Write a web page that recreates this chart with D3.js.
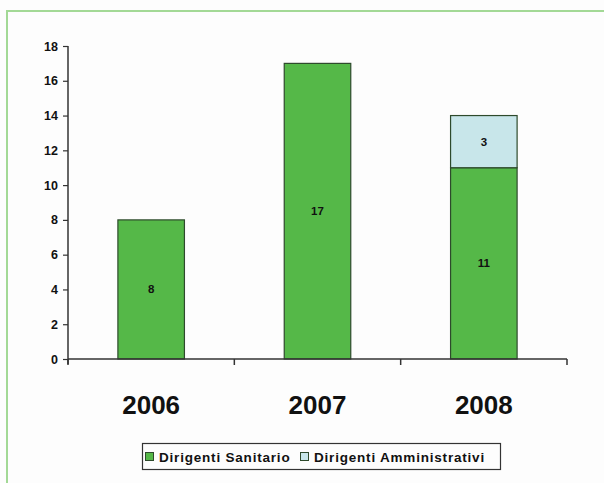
<!DOCTYPE html>
<html>
<head>
<meta charset="utf-8">
<script src="https://cdn.jsdelivr.net/npm/d3@7"></script>
<style>
  html, body { margin: 0; padding: 0; background: #fdfdfd; }
  svg { display: block; }
  text { font-family: Arial, "Liberation Sans", sans-serif; font-weight: bold; fill: #111; }
</style>
</head>
<body>
<script>
// Staff counts per year, split by role
const years = ["2006", "2007", "2008"];
const sanitario = [8, 17, 11];
const amministrativi = [0, 0, 3];
const seriesNames = ["Dirigenti Sanitario", "Dirigenti Amministrativi"];
const seriesColors = ["#55b848", "#c8e6ea"];
const yTicks = [0, 2, 4, 6, 8, 10, 12, 14, 16, 18];

const W = 604, H = 483;
const svg = d3.select("body").append("svg").attr("width", W).attr("height", H);

// light green page frame (top and left edges)
svg.append("line").attr("x1", 7).attr("x2", W).attr("y1", 11).attr("y2", 11)
  .attr("stroke", "#a3d996").attr("stroke-width", 2);
svg.append("line").attr("x1", 7).attr("x2", 7).attr("y1", 10).attr("y2", H)
  .attr("stroke", "#a3d996").attr("stroke-width", 2);

const plotL = 68, plotR = 567, plotT = 46, plotB = 359;

const x = d3.scaleBand().domain(years).range([plotL, plotR])
  .paddingInner(0.6).paddingOuter(0.3);
const y = d3.scaleLinear().domain([0, 18]).range([plotB, plotT]);

// stacked data
const rows = years.map((yr, i) => ({ year: yr, s: sanitario[i], a: amministrativi[i] }));
const stack = d3.stack().keys(["s", "a"])(rows);

stack.forEach((layer, li) => {
  const g = svg.append("g");
  layer.forEach(d => {
    const v = d[1] - d[0];
    if (v <= 0) return;
    g.append("rect")
      .attr("x", x(d.data.year))
      .attr("y", y(d[1]))
      .attr("width", x.bandwidth())
      .attr("height", y(d[0]) - y(d[1]))
      .attr("fill", seriesColors[li])
      .attr("stroke", "#2e4a2c")
      .attr("stroke-width", 1.2);
    g.append("text")
      .attr("x", x(d.data.year) + x.bandwidth() / 2)
      .attr("y", y((d[0] + d[1]) / 2))
      .attr("dy", "0.35em")
      .attr("text-anchor", "middle")
      .attr("font-size", 11.5)
      .text(v);
  });
});

// y axis
const yAxis = svg.append("g").attr("transform", `translate(${plotL},0)`)
  .call(d3.axisLeft(y).tickValues(yTicks).tickSize(5).tickPadding(5));
yAxis.select(".domain").attr("stroke", "#333").attr("stroke-width", 1.5)
  .attr("d", `M0,${plotT}V${plotB + 5}`);
yAxis.selectAll(".tick line").attr("stroke", "#333").attr("stroke-width", 1.2);
yAxis.selectAll(".tick text").attr("font-size", 12.5).attr("font-family", "Arial, 'Liberation Sans', sans-serif")
  .attr("font-weight", "bold").attr("fill", "#111");

// x axis baseline with ticks between categories
svg.append("line").attr("x1", plotL).attr("x2", plotR).attr("y1", plotB).attr("y2", plotB)
  .attr("stroke", "#333").attr("stroke-width", 1.5);
const sepX = d3.range(years.length + 1).map(i => plotL + i * (plotR - plotL) / years.length);
svg.selectAll(".xsep").data(sepX).enter().append("line")
  .attr("x1", d => d).attr("x2", d => d)
  .attr("y1", plotB).attr("y2", plotB + 6)
  .attr("stroke", "#333").attr("stroke-width", 1.5);

svg.selectAll(".yr").data(years).enter().append("text")
  .attr("x", d => x(d) + x.bandwidth() / 2)
  .attr("y", 414)
  .attr("text-anchor", "middle")
  .attr("font-size", 26)
  .text(d => d);

// legend
const lg = svg.append("g");
lg.append("rect").attr("x", 142.5).attr("y", 443.5).attr("width", 358).attr("height", 26)
  .attr("fill", "#fdfdfd").attr("stroke", "#333").attr("stroke-width", 1.2);
const legendX = [145, 300];
seriesNames.forEach((n, i) => {
  lg.append("rect").attr("x", legendX[i] + 0.5).attr("y", 452.5).attr("width", 8).attr("height", 8)
    .attr("fill", seriesColors[i]).attr("stroke", "#2e4a2c").attr("stroke-width", 1);
  lg.append("text").attr("x", legendX[i] + 14).attr("y", 461.5)
    .attr("font-size", 13.5).attr("letter-spacing", 0.8).text(n);
});
</script>
</body>
</html>
